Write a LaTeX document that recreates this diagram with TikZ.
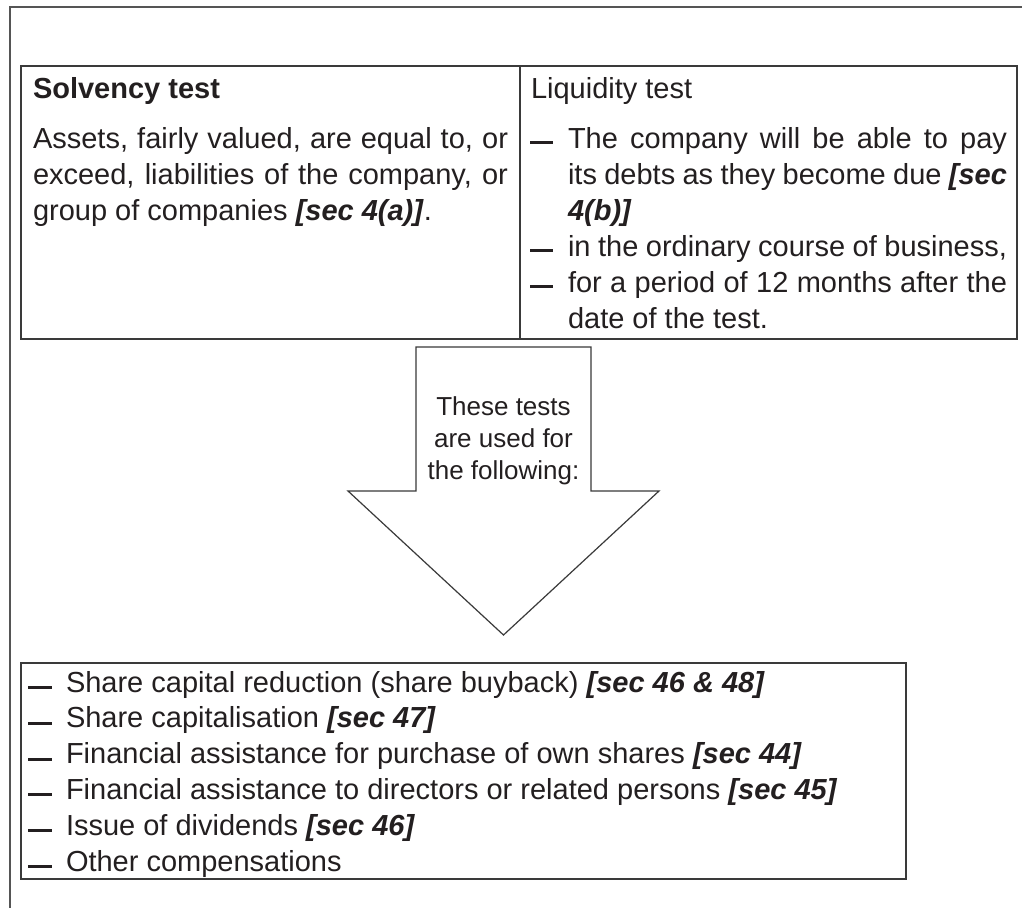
\documentclass[tikz,border=0pt]{standalone}
\usepackage{fontspec}
\setmainfont{Liberation Sans}
\definecolor{ink}{HTML}{231F20}
\definecolor{rulegray}{HTML}{3A3A3A}
\definecolor{framegray}{HTML}{555555}
\newcommand{\secref}[1]{\textbf{\textit{#1}}}
\newcommand{\jline}[2]{\makebox[#1][s]{#2}}
\tikzset{
  frame/.style={draw=framegray, line width=1.8pt},
  boxline/.style={draw=rulegray, line width=1.4pt},
  txt/.style={inner sep=0pt, outer sep=0pt, text=ink, anchor=base west},
  bar/.style={fill=ink},
}
\begin{document}
\begin{tikzpicture}[x=1pt,y=-1pt]
\useasboundingbox (0,0) rectangle (1022,907);
\fill[white] (0,0) rectangle (1022,907);

% outer frame (only top and left edges fall inside the page)
\draw[frame] (10,910) -- (10,7) -- (1025,7);

% the two test cells
\draw[boxline] (21,66) rectangle (1017,339);
\draw[boxline] (520,66) -- (520,339);

\node[txt] (solvhead) at (33,98) {\fontsize{29}{36}\selectfont\textbf{Solvency test}};
\node[txt] (solvbody) at (33,148) {\parbox[t]{475pt}{\fontsize{29}{36}\selectfont
  \jline{475pt}{Assets, fairly valued, are equal to, or}\\
  \jline{475pt}{exceed, liabilities of the company, or}\\
  group of companies \secref{[sec 4(a)]}.}};

\node[txt] (liqhead) at (531,98) {\fontsize{29}{36}\selectfont Liquidity test};
\node[txt] (liqbody) at (568,148) {\parbox[t]{439pt}{\fontsize{29}{36}\selectfont
  \jline{439pt}{The company will be able to pay}\\
  \jline{439pt}{its debts as they become due \secref{[sec}}\\
  \secref{4(b)]}\\
  in the ordinary course of business,\\
  \jline{439pt}{for a period of 12 months after the}\\
  date of the test.}};

% list bars of the liquidity cell
\foreach \b in {148,256,292}
  \fill[bar] (530,\b-7) rectangle (553,\b-4);

% down arrow
\draw[boxline, line width=1.2pt, fill=white]
  (416,347) -- (416,491) -- (348,491) -- (503.5,635) -- (659,491)
  -- (591,491) -- (591,347) -- cycle;
% the base anchor of a multi-line node sits on its last line
\node[inner sep=0pt, text=ink, anchor=base, align=center,
      font=\fontsize{26}{32}\selectfont] (arrowtext) at (503.5,479)
  {These tests\\are used for\\the following:};

% list of uses
\draw[boxline] (21,663) rectangle (906,879);
\node[txt] (uses) at (66,692) {\parbox[t]{830pt}{\fontsize{29}{35.8}\selectfont
  Share capital reduction (share buyback) \secref{[sec 46 \& 48]}\\
  Share capitalisation \secref{[sec 47]}\\
  Financial assistance for purchase of own shares \secref{[sec 44]}\\
  Financial assistance to directors or related persons \secref{[sec 45]}\\
  Issue of dividends \secref{[sec 46]}\\
  Other compensations}};
\foreach \k in {0,...,5}
  \fill[bar] (28,692+35.8*\k-6) rectangle (52,692+35.8*\k-3);
\end{tikzpicture}
\end{document}
